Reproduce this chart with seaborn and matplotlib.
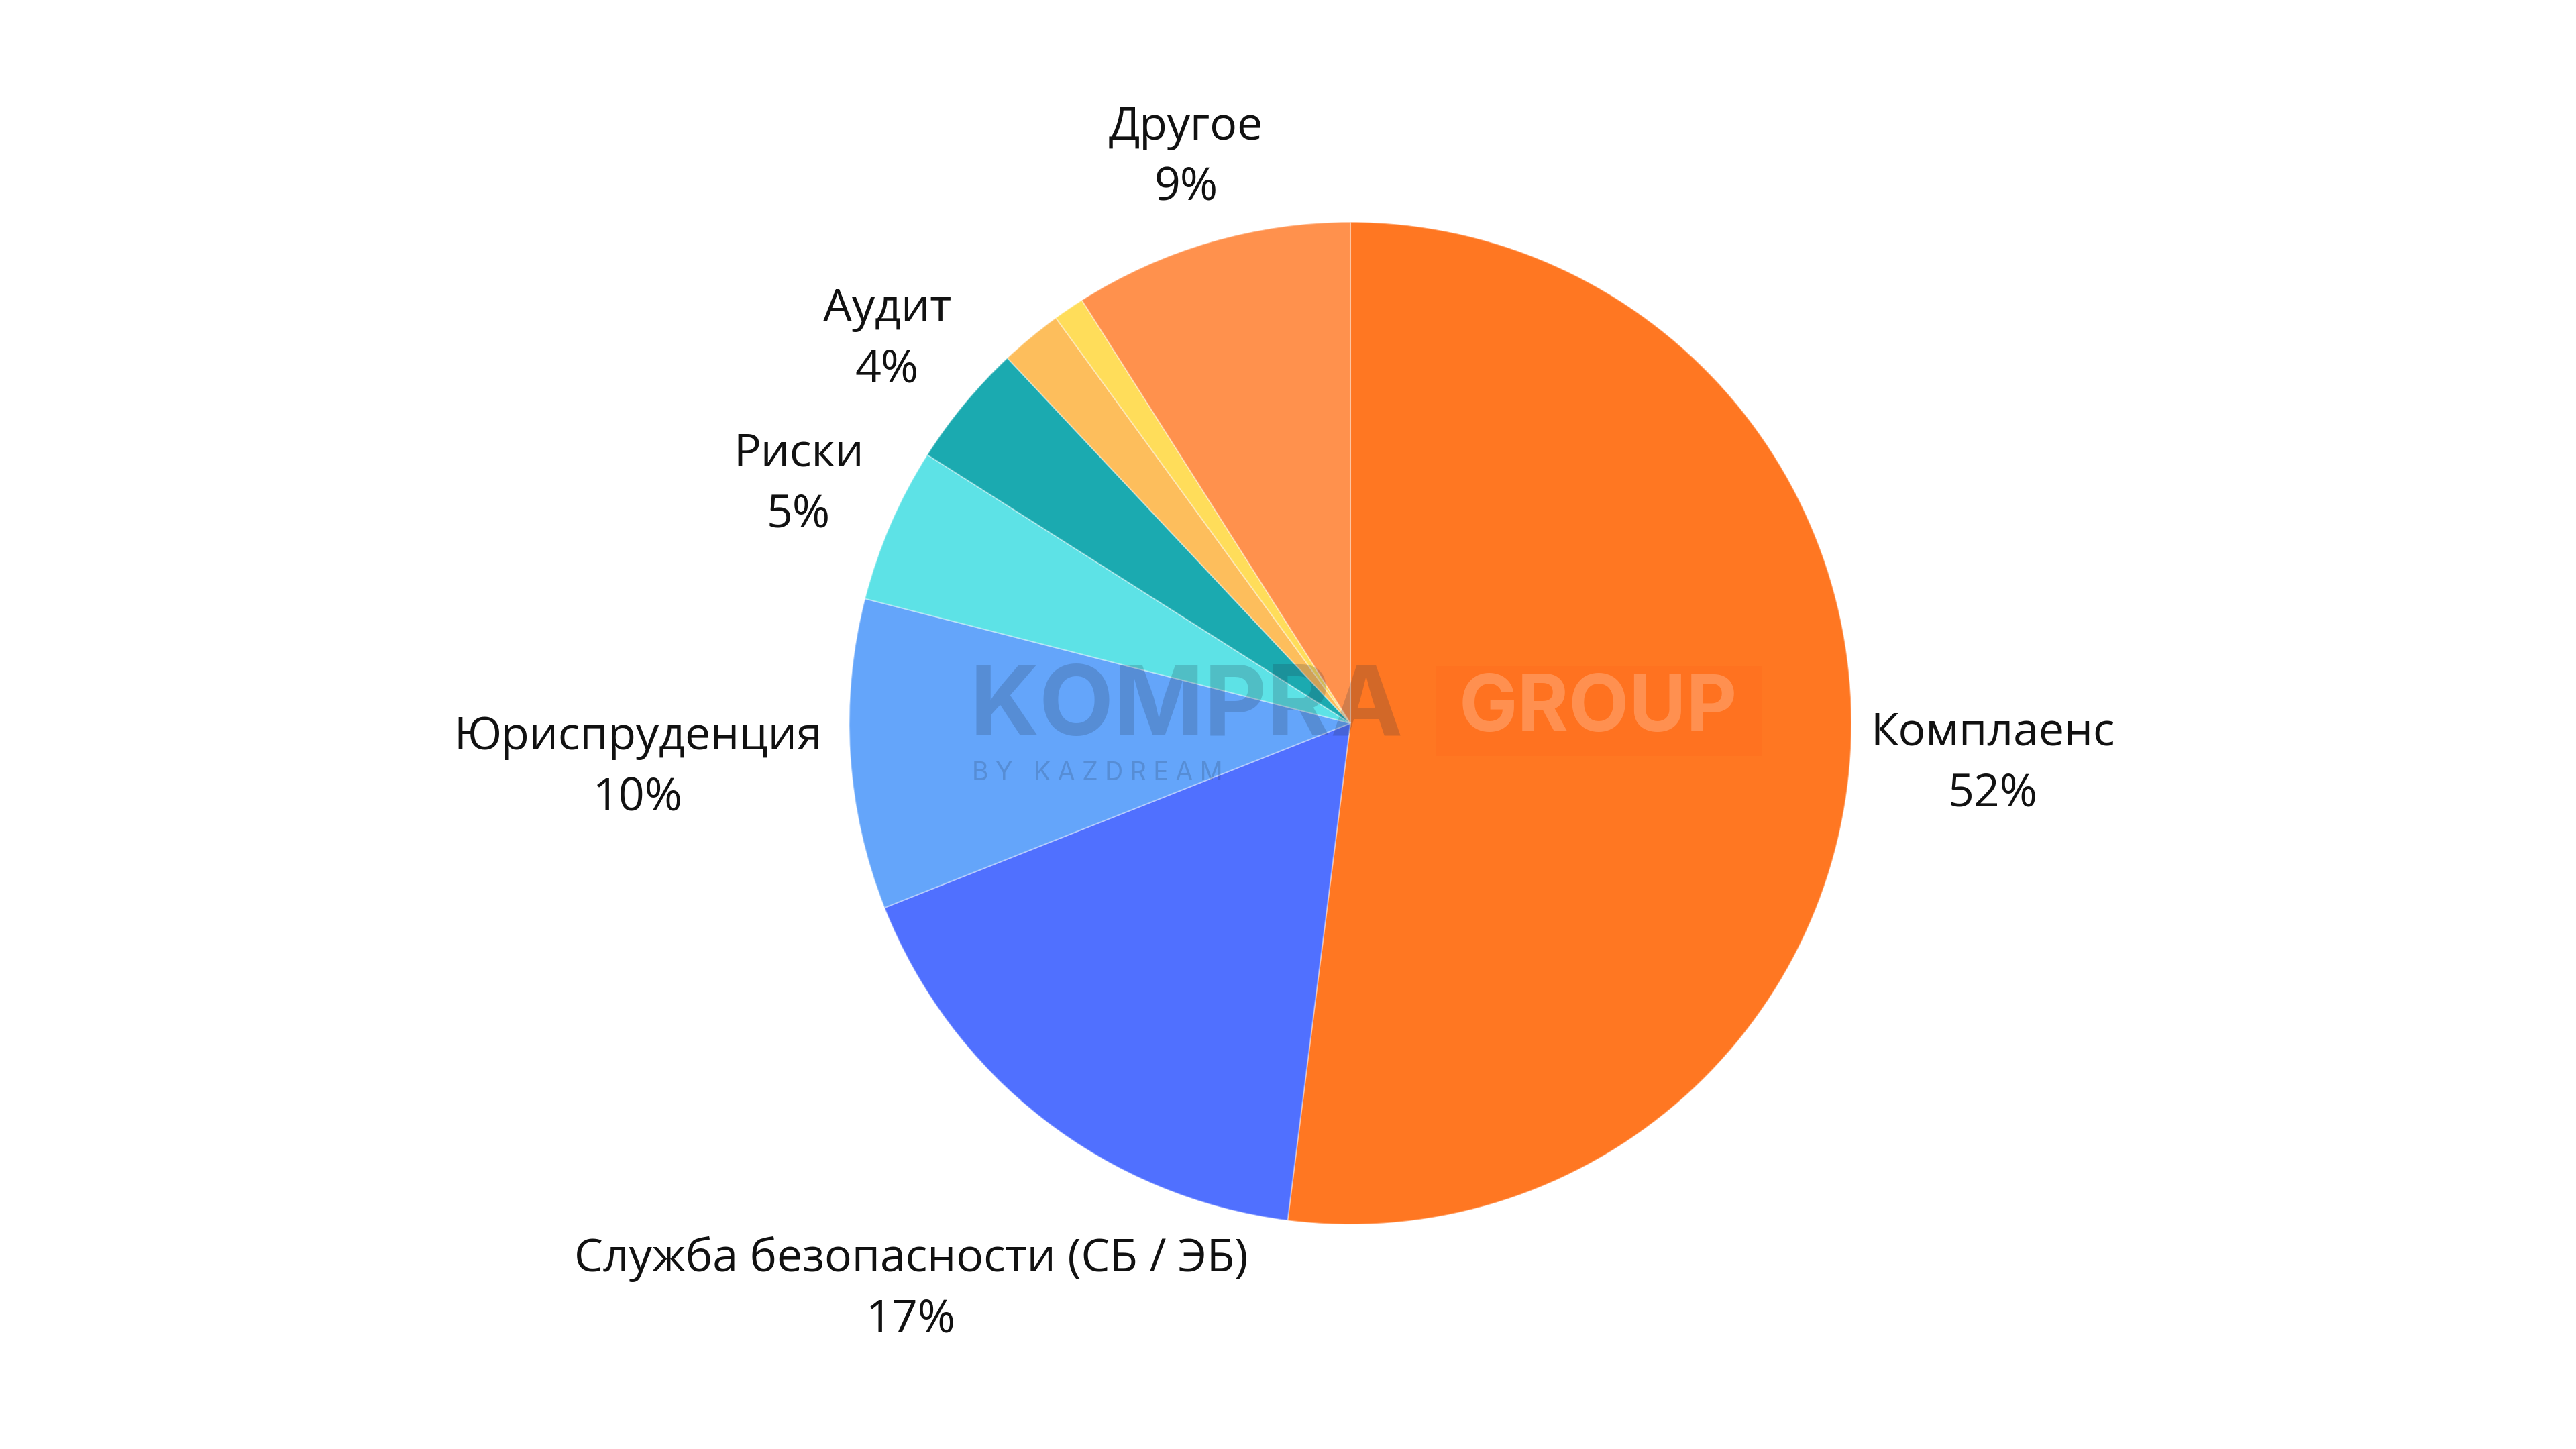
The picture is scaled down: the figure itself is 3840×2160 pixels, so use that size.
import numpy as np
import matplotlib
matplotlib.use("Agg")
import matplotlib.pyplot as plt
import seaborn as sns
from matplotlib.patches import Rectangle

# Data
categories = ["Комплаенс", "Служба безопасности (СБ / ЭБ)", "Юриспруденция", "Риски",
              "Аудит", "", "", "Другое"]
shares = [52, 17, 10, 5, 4, 2, 1, 9]
slice_colors = ["#FF7722", "#5070FF", "#64A5FA", "#5DE2E6",
                "#1BAAB0", "#FDBE5C", "#FFDD5A", "#FF914D"]

# how far out each label sits (in pie radii), None = no label
label_dist = [1.285, 1.43, 1.425, 1.2, 1.2, None, None, 1.175]

sns.set_theme(style="white")
plt.rcParams['font.family'] = ['Open Sans', 'DejaVu Sans']

fig = plt.figure(figsize=(38.4, 21.6), dpi=100)
ax = fig.add_axes([0, 0, 1, 1])

palette = sns.color_palette(slice_colors)
wedges, _ = ax.pie(shares, colors=palette, startangle=90, counterclock=False, radius=1,
                   wedgeprops=dict(edgecolor=(1, 1, 1, 0.35), linewidth=1.5))

# pie() resets the limits, so set them afterwards
ax.set_xlim(-2.695, 2.446)
ax.set_ylim(-1.448, 1.443)
ax.set_aspect("equal")
ax.axis("off")

total = sum(shares)
for w, name, v, d in zip(wedges, categories, shares, label_dist):
    if d is None:
        continue
    th = np.deg2rad((w.theta1 + w.theta2) / 2)
    ax.text(d * np.cos(th), d * np.sin(th), f"{name}\n{v / total * 100:.0f}%",
            ha="center", va="center", fontsize=49, linespacing=1.45, color="#111111")

# watermark
ax.text(-0.76, 0.026, "KOMPRA", fontsize=104, fontweight="bold", family=["Inter", "DejaVu Sans"],
        color="#1e2f45", alpha=0.2, ha="left", va="center", zorder=5)
ax.text(-0.755, -0.10, "B Y   K A Z D R E A M", fontsize=27, family=["Inter", "DejaVu Sans"],
        color="#1e2f45", alpha=0.2, ha="left", va="center", zorder=5)
ax.add_patch(Rectangle((0.172, -0.066), 0.65, 0.18, facecolor="#ff3000", alpha=0.06,
                       edgecolor="none", zorder=5))
ax.text(0.495, 0.026, "GROUP", fontsize=84, fontweight="bold", family=["Inter", "DejaVu Sans"],
        color="white", alpha=0.22, ha="center", va="center", zorder=6)

fig.savefig("out.png", dpi=100)
